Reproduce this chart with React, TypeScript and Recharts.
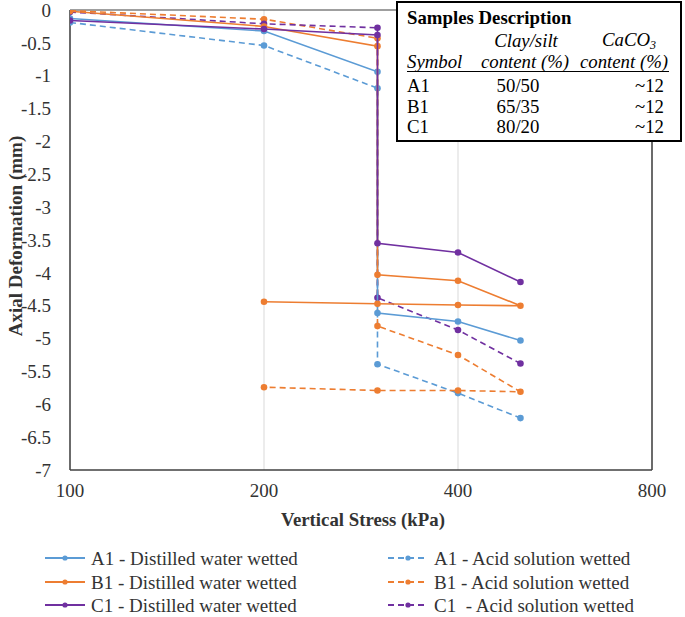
import { ScatterChart, Scatter, XAxis, YAxis, CartesianGrid, ReferenceLine } from "recharts";

// stress steps (kPa): loading, wetting at 300, loading, optional unloading
const loadStress = [100, 200, 300, 300, 400, 500];
const loadUnloadStress = [100, 200, 300, 300, 400, 500, 400, 300, 200];

// axial deformation (mm)
const a1Water = [-0.13, -0.32, -0.94, -4.61, -4.74, -5.03];
const b1Water = [-0.02, -0.25, -0.55, -4.03, -4.12, -4.5, -4.49, -4.47, -4.44];
const c1Water = [-0.16, -0.29, -0.38, -3.55, -3.69, -4.14];
const a1Acid = [-0.19, -0.54, -1.19, -5.39, -5.83, -6.21];
const b1Acid = [-0.01, -0.14, -0.43, -4.81, -5.25, -5.81, -5.79, -5.79, -5.74];
const c1Acid = [-0.03, -0.21, -0.27, -4.38, -4.87, -5.38];

const xTicks = [100, 200, 400, 800];
const yTicks = [0, -0.5, -1, -1.5, -2, -2.5, -3, -3.5, -4, -4.5, -5, -5.5, -6, -6.5, -7];

const BLUE = "#5b9bd5";
const ORANGE = "#ed7d31";
const PURPLE = "#7030a0";
const FONT = '"Liberation Serif", "Times New Roman", serif';

const toPoints = (xs: number[], ys: number[]) => ys.map((y, i) => ({ x: xs[i], y }));

const series = [
  { name: "A1 - Acid solution wetted", color: BLUE, dashed: true, data: toPoints(loadStress, a1Acid) },
  { name: "B1 - Acid solution wetted", color: ORANGE, dashed: true, data: toPoints(loadUnloadStress, b1Acid) },
  { name: "C1  - Acid solution wetted", color: PURPLE, dashed: true, data: toPoints(loadStress, c1Acid) },
  { name: "A1 - Distilled water wetted", color: BLUE, dashed: false, data: toPoints(loadStress, a1Water) },
  { name: "B1 - Distilled water wetted", color: ORANGE, dashed: false, data: toPoints(loadUnloadStress, b1Water) },
  { name: "C1 - Distilled water wetted", color: PURPLE, dashed: false, data: toPoints(loadStress, c1Water) },
];

const legendCols = [
  series.filter((s) => !s.dashed),
  series.filter((s) => s.dashed),
];

function Txt({ x, y, children, style, anchor = "left" }: any) {
  const tf = anchor === "center" ? "translate(-50%, -50%)" : anchor === "right" ? "translate(-100%, -50%)" : "translate(0, -50%)";
  return (
    <div style={{ position: "absolute", left: x, top: y, transform: tf, whiteSpace: "pre", lineHeight: 1, ...style }}>
      {children}
    </div>
  );
}

function SamplesTable() {
  const f = { fontSize: 18.8, fontFamily: FONT, color: "#000" };
  const it = { ...f, fontStyle: "italic" };
  const rows = [
    ["A1", "50/50", "~12", 86],
    ["B1", "65/35", "~12", 107],
    ["C1", "80/20", "~12", 127],
  ] as const;
  return (
    <>
      <div
        style={{
          position: "absolute",
          left: 396,
          top: 1,
          width: 286,
          height: 141,
          boxSizing: "border-box",
          border: "2px solid #000",
          background: "#fff",
        }}
      />
      <Txt x={407} y={18} style={{ ...f, fontWeight: "bold" }}>Samples Description</Txt>
      <Txt x={526} y={41} anchor="center" style={it}>Clay/silt</Txt>
      <Txt x={629} y={41} anchor="center" style={it}>
        CaCO<sub style={{ fontSize: 12, verticalAlign: "-3px" }}>3</sub>
      </Txt>
      <Txt x={407} y={62} style={it}>Symbol</Txt>
      <Txt x={525} y={62} anchor="center" style={it}>content (%)</Txt>
      <Txt x={624} y={62} anchor="center" style={it}>content (%)</Txt>
      <div style={{ position: "absolute", left: 407, top: 71, width: 262, height: 1, background: "#000" }} />
      {rows.map(([s, c, ca, y]) => (
        <div key={s}>
          <Txt x={407} y={y} style={f}>{s}</Txt>
          <Txt x={518} y={y} anchor="center" style={f}>{c}</Txt>
          <Txt x={664} y={y} anchor="right" style={f}>{ca}</Txt>
        </div>
      ))}
    </>
  );
}

function ChartLegend() {
  const rowsY = [558, 582, 605];
  const colX = [
    { line: 45, text: 91 },
    { line: 388, text: 434 },
  ];
  return (
    <>
      {legendCols.map((col, ci) =>
        col.map((s, ri) => {
          const y = rowsY[ri];
          const lx = colX[ci].line;
          return (
            <div key={s.name}>
              <svg style={{ position: "absolute", left: lx, top: y - 5 }} width={42} height={10}>
                <line x1={0} y1={5} x2={40} y2={5} stroke={s.color} strokeWidth={2} strokeDasharray={s.dashed ? "6 4" : undefined} />
                <circle cx={20} cy={5} r={2.6} fill={s.color} />
              </svg>
              <Txt x={colX[ci].text} y={y} style={{ fontSize: 19, fontFamily: FONT, color: "#333" }}>
                {s.name}
              </Txt>
            </div>
          );
        })
      )}
    </>
  );
}

export default function App() {
  return (
    <div style={{ position: "absolute", left: 0, top: 0, width: 685, height: 617, background: "#fff", fontFamily: FONT }}>
      <ScatterChart width={685} height={617} margin={{ top: 10, right: 33, bottom: 0, left: 0 }} style={{ fontFamily: FONT }}>
        <CartesianGrid horizontal={false} stroke="#d9d9d9" />
        <XAxis
          type="number"
          dataKey="x"
          scale="log"
          domain={[100, 800]}
          ticks={xTicks}
          interval={0}
          allowDataOverflow
          height={147}
          tickLine={false}
          tickSize={0}
          tickMargin={14}
          axisLine={{ stroke: "#404040", strokeWidth: 1.5 }}
          tick={{ fill: "#333", fontSize: 19, fontFamily: FONT }}
        />
        <YAxis
          type="number"
          dataKey="y"
          domain={[-7, 0]}
          ticks={yTicks}
          interval={0}
          allowDataOverflow
          width={70}
          tickLine={false}
          tickSize={0}
          tickMargin={19}
          axisLine={{ stroke: "#404040", strokeWidth: 1.5 }}
          tick={{ fill: "#333", fontSize: 19, fontFamily: FONT }}
        />
        <ReferenceLine y={0} stroke="#404040" strokeWidth={1.2} />
        <ReferenceLine x={800} stroke="#404040" strokeWidth={1.5} />
        {series.map((s) => (
          <Scatter
            key={s.name}
            name={s.name}
            data={s.data}
            fill={s.color}
            isAnimationActive={false}
            line={{ stroke: s.color, strokeWidth: 1.6, strokeDasharray: s.dashed ? "6 4" : undefined }}
            shape={(p: any) => <circle cx={p.cx} cy={p.cy} r={3.3} fill={s.color} />}
          />
        ))}
      </ScatterChart>
      <Txt
        x={15}
        y={236}
        anchor="center"
        style={{ fontSize: 19, fontWeight: "bold", fontFamily: FONT, color: "#333", transform: "translate(-50%, -50%) rotate(-90deg)" }}
      >
        Axial Deformation (mm)
      </Txt>
      <Txt x={363} y={520} anchor="center" style={{ fontSize: 18.8, fontWeight: "bold", fontFamily: FONT, color: "#333" }}>
        Vertical Stress (kPa)
      </Txt>
      <SamplesTable />
      <ChartLegend />
    </div>
  );
}
